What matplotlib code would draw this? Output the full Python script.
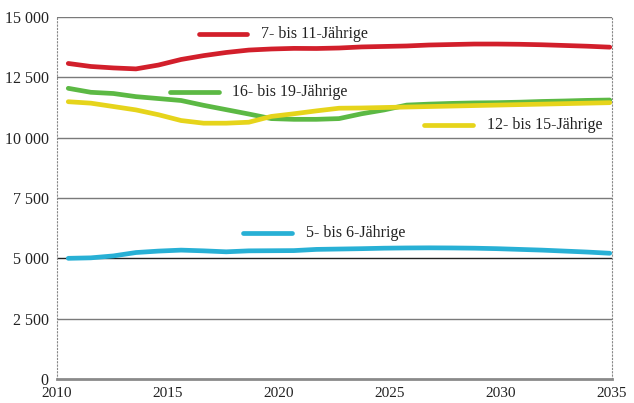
import matplotlib.pyplot as plt
import numpy as np

years = np.arange(2011, 2036)

age_7_11 = [13075, 12950, 12890, 12850, 13010, 13240, 13400, 13530, 13630, 13675,
            13700, 13695, 13715, 13760, 13780, 13800, 13840, 13860, 13880, 13880,
            13870, 13850, 13820, 13790, 13750]
age_16_19 = [12045, 11880, 11830, 11700, 11620, 11540, 11340, 11160, 10980, 10790,
             10760, 10760, 10790, 10990, 11150, 11350, 11390, 11420, 11440, 11450,
             11470, 11500, 11520, 11545, 11560]
age_12_15 = [11490, 11430, 11290, 11150, 10950, 10710, 10600, 10600, 10640, 10880,
             10990, 11110, 11220, 11230, 11250, 11270, 11290, 11310, 11330, 11350,
             11370, 11390, 11410, 11430, 11450]
age_5_6 = [5000, 5020, 5100, 5240, 5300, 5340, 5310, 5270, 5310, 5315,
           5320, 5370, 5385, 5400, 5420, 5430, 5435, 5430, 5420, 5400,
           5370, 5340, 5300, 5260, 5210]

x_labels = ["2010", "2015", "2020", "2025", "2030", "2035"]
y_ticks = [0, 2500, 5000, 7500, 10000, 12500, 15000]

plt.rcParams["font.family"] = ["Liberation Serif", "DejaVu Serif"]

fig = plt.figure(figsize=(6.34, 4.03), dpi=100)
ax = fig.add_axes([0.0899, 0.0596, 0.8754, 0.8982])

series = [
    (age_7_11, "#d21f2b", "7- bis 11-Jährige", (0.255, 0.952)),
    (age_16_19, "#5cb944", "16- bis 19-Jährige", (0.204, 0.792)),
    (age_12_15, "#e6d41b", "12- bis 15-Jährige", (0.662, 0.703)),
    (age_5_6, "#28b0d5", "5- bis 6-Jährige", (0.336, 0.402)),
]

for vals, col, label, (lx, ly) in series:
    ax.plot(years, vals, color=col, lw=3.4, solid_capstyle="round", zorder=3)
    # inline label with short line sample
    ax.plot([lx, lx + 0.087], [ly, ly], color=col, lw=3.4, solid_capstyle="round",
            transform=ax.transAxes, clip_on=False)
    ax.text(lx + 0.112, ly, label, transform=ax.transAxes, fontsize=11.5,
            va="center", ha="left", color="#222222")

ax.set_xlim(2010.5, 2035.1)
ax.set_ylim(0, 15000)
lo, hi = ax.get_xlim()
ax.set_xticks(np.linspace(lo, hi, len(x_labels)))
ax.set_xticklabels(x_labels)
ax.set_yticks(y_ticks)
ax.set_yticklabels([f"{v:,}".replace(",", " ") for v in y_ticks])
ax.tick_params(length=0, labelsize=11.5, colors="#222222", pad=6)
ax.tick_params(axis="x", labelsize=11, pad=6)

for v in y_ticks[1:]:
    ax.axhline(v, color="#222222" if v == 5000 else "#7a7a7a", lw=1.0, zorder=1)

for side in ["top", "bottom"]:
    ax.spines[side].set_visible(False)
ax.axhline(0, color="#8a8a8a", lw=2.0, zorder=2, clip_on=False)
for side in ["left", "right"]:
    ax.spines[side].set_linestyle((0, (1, 2)))
    ax.spines[side].set_color("#888888")
    ax.spines[side].set_linewidth(0.8)

fig.savefig("out.png", dpi=100)
